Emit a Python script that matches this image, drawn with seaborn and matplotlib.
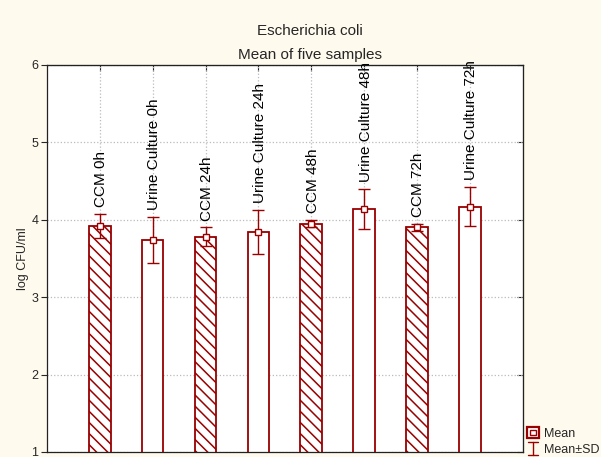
import matplotlib
matplotlib.use("Agg")
import matplotlib.pyplot as plt
from matplotlib.lines import Line2D
from matplotlib.patches import Rectangle
from matplotlib.legend_handler import HandlerBase
import seaborn as sns
import pandas as pd

categories = ["CCM 0h", "Urine Culture 0h", "CCM 24h", "Urine Culture 24h",
              "CCM 48h", "Urine Culture 48h", "CCM 72h", "Urine Culture 72h"]
means = [3.92, 3.74, 3.78, 3.84, 3.95, 4.14, 3.90, 4.17]
sds = [0.15, 0.30, 0.12, 0.28, 0.05, 0.26, 0.05, 0.25]
medium = ["CCM", "Urine", "CCM", "Urine", "CCM", "Urine", "CCM", "Urine"]
yticks = [1, 2, 3, 4, 5, 6]

RED = "#990000"
BG = "#fffaee"

sns.set_style("white")
plt.rcParams["font.family"] = ["Liberation Sans", "DejaVu Sans"]
plt.rcParams["hatch.linewidth"] = 1.1

df = pd.DataFrame({"cat": categories, "mean": means, "sd": sds, "medium": medium})

fig = plt.figure(figsize=(6.01, 4.57), dpi=100, facecolor=BG)
ax = fig.add_axes([0.078, 0.011, 0.792, 0.847])
ax.set_facecolor("white")

sns.barplot(data=df, x="cat", y="mean", order=categories, color="white",
            edgecolor=RED, linewidth=1.3, width=0.41, errorbar=None, ax=ax)
for p, m in zip(ax.patches, medium):
    p.set_facecolor("white")
    p.set_edgecolor(RED)
    if m == "CCM":
        p.set_hatch("\\\\\\")

xs = list(range(len(categories)))
ax.errorbar(xs, means, yerr=sds, fmt="s", color=RED, mfc="white", mec=RED,
            ms=5, mew=1.0, elinewidth=1.0, capsize=4, capthick=1.0, zorder=5)

for x, m, s, lab in zip(xs, means, sds, categories):
    ax.annotate(lab, (x, m + s), xytext=(1, 5), textcoords="offset points",
                rotation=90, ha="center", va="bottom", fontsize=11, color="black")

ax.set_ylim(1, 6)
ax.set_xlim(-1, len(categories))
ax.set_yticks(yticks)
ax.set_xticks(xs)
ax.set_xticklabels([])
ax.set_xlabel("")
ax.set_ylabel("log CFU/ml", fontsize=9, labelpad=2)
ax.grid(True, axis="both", color="#bbbbbb", linestyle=":", linewidth=0.9)
ax.set_axisbelow(True)
ax.tick_params(axis="y", direction="out", length=4, width=0.8, labelsize=9,
               left=True, pad=2)
ax.tick_params(axis="x", direction="in", length=3, width=0.8, bottom=True)
for sp in ax.spines.values():
    sp.set_color("#222222")
    sp.set_linewidth(0.9)

sec_r = ax.secondary_yaxis("right")
sec_r.set_yticks(yticks)
sec_r.tick_params(direction="in", length=4, width=0.8, labelright=False)
sec_r.spines["right"].set_color("#666666")
sec_t = ax.secondary_xaxis("top")
sec_t.set_xticks(xs)
sec_t.tick_params(direction="in", length=4, width=0.8, labeltop=False)

fig.text(0.516, 0.932, "Escherichia coli", ha="center", va="center", fontsize=11)
fig.text(0.516, 0.879, "Mean of five samples", ha="center", va="center", fontsize=11)


class MeanHandler(HandlerBase):
    def create_artists(self, legend, orig_handle, xdescent, ydescent, width,
                       height, fontsize, trans):
        cx, cy = width / 2 - xdescent, height / 2 - ydescent
        s = 8.5
        outer = Rectangle((cx - s / 2, cy - s / 2), s, s, facecolor="white",
                          edgecolor=RED, linewidth=1.6, transform=trans)
        inner = Rectangle((cx - 2, cy - 2), 4, 4, facecolor="white",
                          edgecolor=RED, linewidth=1.0, transform=trans)
        return [outer, inner]


class SDHandler(HandlerBase):
    def create_artists(self, legend, orig_handle, xdescent, ydescent, width,
                       height, fontsize, trans):
        cx, cy = width / 2 - xdescent, height / 2 - ydescent
        h = 4.5
        c = 3.5
        lines = [
            Line2D([cx, cx], [cy - h, cy + h], color=RED, lw=1.0, transform=trans),
            Line2D([cx - c, cx + c], [cy + h, cy + h], color=RED, lw=1.0, transform=trans),
            Line2D([cx - c, cx + c], [cy - h, cy - h], color=RED, lw=1.0, transform=trans),
        ]
        return lines


h1 = Rectangle((0, 0), 1, 1)
h2 = Line2D([], [])
fig.legend([h1, h2], ["Mean", "Mean±SD"], loc="lower left",
           bbox_to_anchor=(0.869, -0.008), frameon=False, fontsize=9,
           handlelength=0.9, handletextpad=0.4, labelspacing=0.3,
           borderaxespad=0.0,
           handler_map={Rectangle: MeanHandler(), Line2D: SDHandler()})

fig.savefig("out.png", dpi=100, facecolor=BG)
